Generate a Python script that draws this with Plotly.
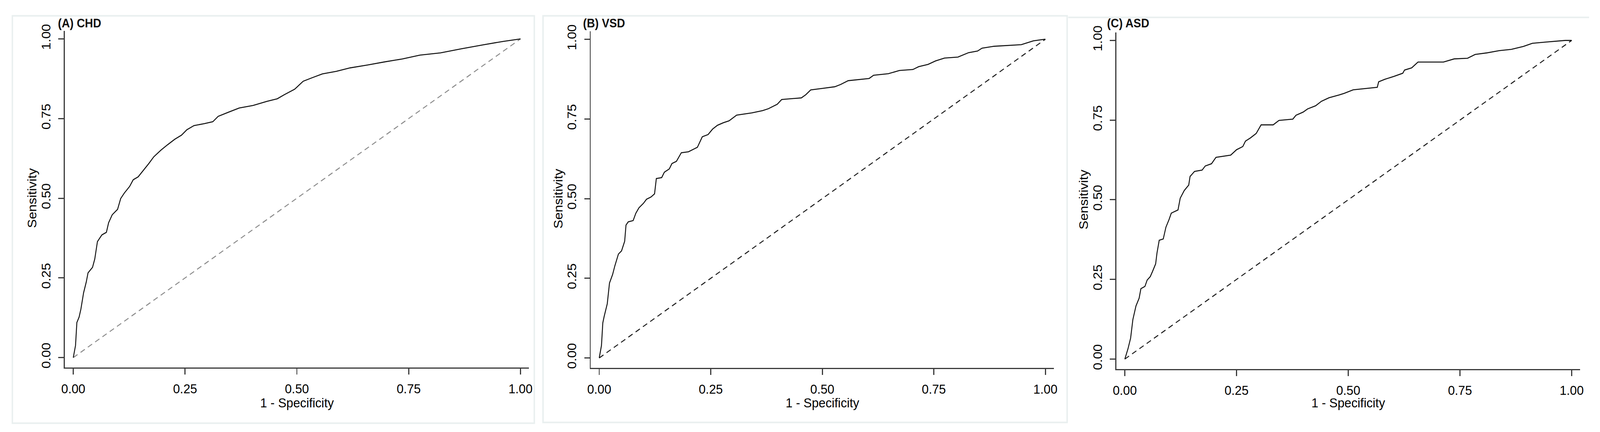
import plotly.graph_objects as go

W, H = 4391, 1105

# ---------------- data ----------------
panel_titles = ["(A) CHD", "(B) VSD", "(C) ASD"]
x_title = "1 - Specificity"
y_title = "Sensitivity"
tick_vals = [0, 0.25, 0.5, 0.75, 1]
tick_labels = ["0.00", "0.25", "0.50", "0.75", "1.00"]

chd_fpr = [0, 0.005, 0.008, 0.013, 0.017, 0.023, 0.029, 0.033, 0.043, 0.048, 0.054, 0.064,
           0.074, 0.079, 0.087, 0.099, 0.106, 0.114, 0.126, 0.134, 0.145, 0.157, 0.169, 0.180,
           0.196, 0.211, 0.227, 0.242, 0.254, 0.270, 0.293, 0.312, 0.324, 0.347, 0.371, 0.402,
           0.433, 0.456, 0.472, 0.495, 0.514, 0.534, 0.557, 0.588, 0.619, 0.658, 0.697, 0.736,
           0.775, 0.821, 0.868, 0.915, 0.961, 1.0]
chd_tpr = [0, 0.038, 0.110, 0.127, 0.152, 0.203, 0.237, 0.266, 0.283, 0.309, 0.364, 0.385,
           0.393, 0.423, 0.448, 0.465, 0.499, 0.516, 0.537, 0.558, 0.567, 0.588, 0.609, 0.630,
           0.651, 0.668, 0.685, 0.698, 0.715, 0.728, 0.734, 0.740, 0.757, 0.770, 0.783, 0.791,
           0.804, 0.812, 0.825, 0.842, 0.867, 0.878, 0.890, 0.898, 0.909, 0.918, 0.928, 0.937,
           0.949, 0.956, 0.969, 0.981, 0.992, 1.0]

vsd_fpr = [0, 0.005, 0.008, 0.011, 0.018, 0.023, 0.030, 0.035, 0.043, 0.050, 0.057, 0.060,
           0.065, 0.076, 0.082, 0.089, 0.099, 0.106, 0.116, 0.124, 0.128, 0.140, 0.146, 0.157,
           0.163, 0.173, 0.184, 0.200, 0.220, 0.231, 0.244, 0.254, 0.265, 0.278, 0.291, 0.308,
           0.342, 0.366, 0.379, 0.399, 0.409, 0.453, 0.463, 0.474, 0.501, 0.528, 0.541, 0.558,
           0.605, 0.615, 0.648, 0.673, 0.703, 0.716, 0.737, 0.754, 0.774, 0.804, 0.828, 0.848,
           0.858, 0.885, 0.946, 0.973, 0.993, 1.0]
vsd_tpr = [0, 0.039, 0.110, 0.130, 0.170, 0.235, 0.262, 0.289, 0.326, 0.336, 0.366, 0.417,
           0.427, 0.431, 0.454, 0.471, 0.485, 0.498, 0.505, 0.515, 0.563, 0.566, 0.583, 0.593,
           0.610, 0.617, 0.644, 0.647, 0.661, 0.694, 0.701, 0.718, 0.730, 0.738, 0.744, 0.762,
           0.769, 0.776, 0.782, 0.796, 0.811, 0.816, 0.826, 0.841, 0.846, 0.851, 0.858, 0.870,
           0.877, 0.887, 0.892, 0.902, 0.905, 0.914, 0.921, 0.932, 0.941, 0.944, 0.958, 0.963,
           0.972, 0.978, 0.983, 0.995, 0.999, 1.0]

asd_fpr = [0, 0.007, 0.013, 0.018, 0.025, 0.032, 0.036, 0.045, 0.050, 0.057, 0.062, 0.069,
           0.072, 0.077, 0.086, 0.092, 0.099, 0.104, 0.119, 0.124, 0.133, 0.143, 0.146, 0.156,
           0.173, 0.180, 0.194, 0.204, 0.237, 0.250, 0.264, 0.270, 0.281, 0.294, 0.305, 0.332,
           0.345, 0.376, 0.383, 0.399, 0.409, 0.427, 0.440, 0.457, 0.480, 0.491, 0.511, 0.565,
           0.568, 0.582, 0.602, 0.622, 0.626, 0.642, 0.656, 0.713, 0.737, 0.767, 0.784, 0.811,
           0.838, 0.865, 0.892, 0.912, 0.943, 0.986, 1.0]
asd_tpr = [0, 0.032, 0.066, 0.124, 0.167, 0.191, 0.221, 0.228, 0.248, 0.259, 0.275, 0.299,
           0.333, 0.373, 0.377, 0.414, 0.438, 0.458, 0.468, 0.505, 0.529, 0.546, 0.573, 0.589,
           0.593, 0.606, 0.613, 0.633, 0.640, 0.657, 0.667, 0.684, 0.694, 0.708, 0.735, 0.735,
           0.749, 0.753, 0.765, 0.775, 0.785, 0.795, 0.809, 0.820, 0.829, 0.834, 0.845, 0.853,
           0.870, 0.878, 0.887, 0.897, 0.907, 0.914, 0.932, 0.932, 0.942, 0.944, 0.956, 0.961,
           0.968, 0.972, 0.981, 0.991, 0.995, 1.0, 1.0]

ref_x = [0, 1]
ref_y = [0, 1]

# ---------------- layout geometry (pixels of the 4391x1105 design) ----------------
geom = [
    dict(x0=192, x1=1425, y0=914, y1=83),
    dict(x0=1642, x1=2872, y0=915, y1=84),
    dict(x0=3091, x1=4323, y0=918, y1=87),
]
XR = [-0.019, 1.019]
YR = [-0.031, 1.025]
ref_colors = ["#8a8a8a", "#1a1a1a", "#1a1a1a"]
title_left = [148, 1595, 3040]

curves = [(chd_fpr, chd_tpr), (vsd_fpr, vsd_tpr), (asd_fpr, asd_tpr)]

fig = go.Figure()
FONT = "Liberation Sans, Arial, sans-serif"
axis_font = dict(family=FONT, size=34, color="#000000")
line_col = "#3a3a3a"
annotations = []
shapes = []

for i, g in enumerate(geom):
    n = "" if i == 0 else str(i + 1)
    sx = (g["x1"] - g["x0"])
    sy = (g["y0"] - g["y1"])
    px_l = g["x0"] + XR[0] * sx
    px_r = g["x0"] + XR[1] * sx
    py_b = g["y0"] - YR[0] * sy
    py_t = g["y0"] - YR[1] * sy
    xd = [px_l / W, px_r / W]
    yd = [1 - py_b / H, 1 - py_t / H]

    common = dict(showline=True, linecolor=line_col, linewidth=3, ticks="outside",
                  ticklen=15, tickwidth=3, tickcolor=line_col, tickvals=tick_vals,
                  ticktext=tick_labels, tickfont=axis_font, showgrid=False,
                  zeroline=False, fixedrange=True)
    fig.update_layout(**{
        "xaxis" + n: dict(domain=xd, range=XR, anchor="y" + n, ticklabelstandoff=7, **common),
        "yaxis" + n: dict(domain=yd, range=YR, anchor="x" + n, tickangle=-90,
                          ticklabelstandoff=8, **common),
    })

    fx, fy = curves[i]
    fig.add_trace(go.Scatter(x=ref_x, y=ref_y, mode="lines", xaxis="x" + n, yaxis="y" + n,
                             line=dict(color=ref_colors[i], width=2.5, dash="14px,10px"),
                             showlegend=False, hoverinfo="skip"))
    fig.add_trace(go.Scatter(x=fx, y=fy, mode="lines", xaxis="x" + n, yaxis="y" + n,
                             line=dict(color="#111111", width=2.6),
                             showlegend=False))

    cx = (g["x0"] + g["x1"]) / 2
    annotations.append(dict(text=x_title, x=cx / W, y=1 - 1032 / H, xref="paper", yref="paper",
                            showarrow=False, xanchor="center", yanchor="middle",
                            font=dict(family=FONT, size=34, color="#000")))
    cy = (g["y0"] + g["y1"]) / 2
    annotations.append(dict(text=y_title, x=(px_l - 90) / W, y=1 - cy / H, xref="paper", yref="paper",
                            showarrow=False, xanchor="center", yanchor="middle", textangle=-90,
                            font=dict(family=FONT, size=34, color="#000")))
    annotations.append(dict(text="<b>" + panel_titles[i] + "</b>", x=title_left[i] / W, y=1 - 42 / H,
                            xref="paper", yref="paper", showarrow=False, xanchor="left",
                            yanchor="middle",
                            font=dict(family=FONT, size=31, color="#111")))

frame = dict(type="rect", xref="paper", yref="paper", line=dict(color="#e9efef", width=4),
             fillcolor="rgba(0,0,0,0)", layer="below")
shapes.append(dict(frame, x0=24 / W, x1=1463 / W, y0=1 - 1085 / H, y1=1 - 23 / H))
shapes.append(dict(frame, x0=1487 / W, x1=2932 / W, y0=1 - 1083 / H, y1=1 - 23 / H))
shapes.append(dict(type="line", xref="paper", yref="paper", x0=2935 / W, x1=4371 / W,
                   y0=1 - 27 / H, y1=1 - 27 / H, line=dict(color="#e9efef", width=4), layer="below"))

fig.update_layout(width=W, height=H, margin=dict(l=0, r=0, t=0, b=0),
                  paper_bgcolor="white", plot_bgcolor="white",
                  annotations=annotations, shapes=shapes, showlegend=False)

# map the fixed 4391x1105 design onto the whole browser viewport
fit_js = """
var gd = document.getElementById('{plot_id}');
document.documentElement.style.margin = '0';
document.body.style.margin = '0';
document.documentElement.style.overflow = 'hidden';
document.body.style.overflow = 'hidden';
function fitFig() {
  var sx = window.innerWidth / %d, sy = window.innerHeight / %d;
  gd.style.transformOrigin = '0 0';
  gd.style.transform = 'scale(' + sx + ',' + sy + ')';
}
fitFig();
window.addEventListener('resize', fitFig);
""" % (W, H)

fig.write_html("out.html", post_script=fit_js, config={"displayModeBar": False})
